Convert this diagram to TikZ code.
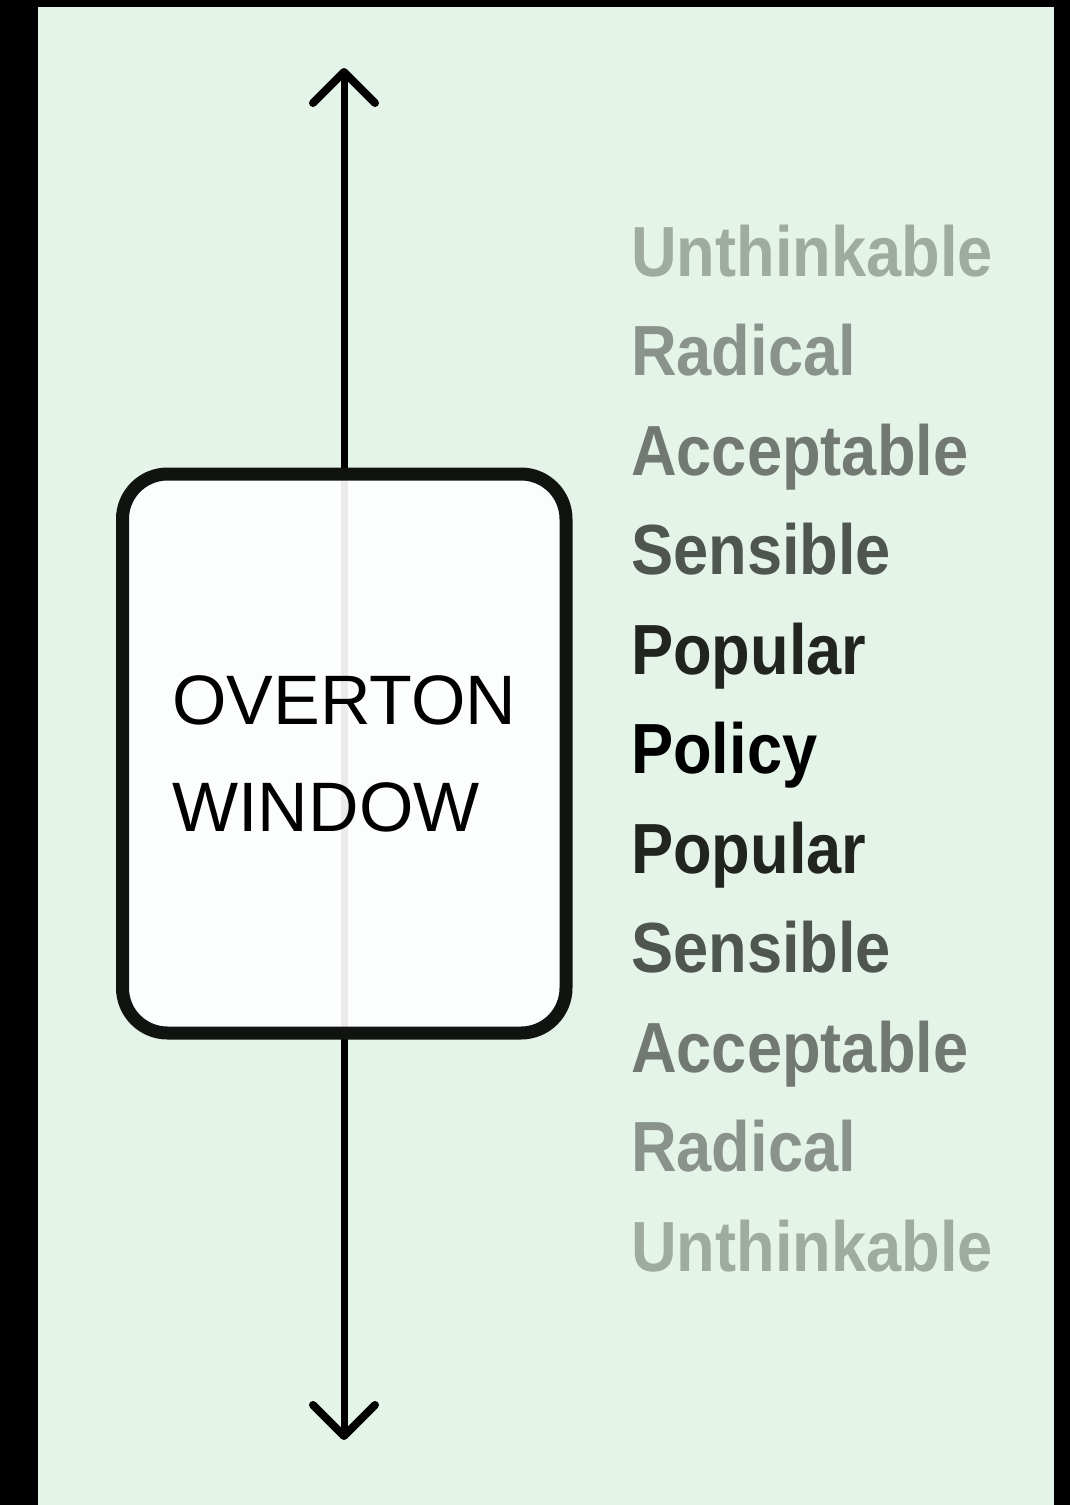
\documentclass[tikz,border=0pt]{standalone}
\usepackage{fontspec}
\setmainfont{Liberation Sans}
\newfontfamily\labelfont{Liberation Sans}[FakeStretch=0.89]
\definecolor{panelgreen}{HTML}{E5F4E8}
\definecolor{framegray}{HTML}{111311}
\begin{document}
\begin{tikzpicture}[x=1pt,y=-1pt,
  axis/.style={line width=7pt,black},
  chevron/.style={line width=8pt,black,line cap=round,line join=round},
  windowbox/.style={draw=framegray,line width=13pt,fill=white,fill opacity=0.92,
    text opacity=1,rounded corners=45pt,minimum width=443.5pt,minimum height=559pt,
    align=left,font=\fontsize{70}{107}\selectfont},
  level/.style={anchor=base west,inner sep=0pt,
    font=\labelfont\bfseries\fontsize{71}{71}\selectfont},
]
% page and panel
\fill[black] (0,0) rectangle (1070,1505);
\fill[panelgreen] (38,7) rectangle (1054,1505);
\useasboundingbox (0,0) rectangle (1070,1505);

% vertical axis with open arrowheads at both ends
\coordinate (top) at (344,72);
\coordinate (bottom) at (344,1436);
\draw[axis] (top) -- (bottom);
\draw[chevron] (top) ++(-31,31) -- (top) -- ++(31,31);
\draw[chevron] (bottom) ++(-31,-31) -- (bottom) -- ++(31,-31);

% the window
\node[windowbox] (window) at (344.25,753.5) {OVERTON\\WINDOW};

% scale of acceptance
\foreach \name/\txt/\op [count=\i from 0] in
  {u1/Unthinkable/0.3, r1/Radical/0.4, a1/Acceptable/0.5, s1/Sensible/0.65,
   p1/Popular/0.85, pol/Policy/1, p2/Popular/0.85, s2/Sensible/0.65,
   a2/Acceptable/0.5, r2/Radical/0.4, u2/Unthinkable/0.3}
  \node[level,text=black,text opacity=\op] (\name) at (631,276+99.5*\i) {\txt};
\end{tikzpicture}
\end{document}
